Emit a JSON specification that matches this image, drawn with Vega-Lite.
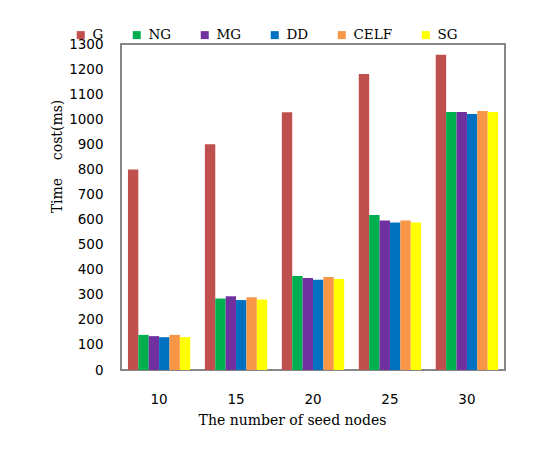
{
  "$schema": "https://vega.github.io/schema/vega-lite/v6.json",
  "width": 384,
  "height": 326,
  "autosize": "none",
  "padding": {"left": 121, "top": 44, "right": 45, "bottom": 79},
  "background": "white",
  "data": {
    "values": [
      {"n": "10", "alg": "G", "t": 800}, {"n": "10", "alg": "NG", "t": 140}, {"n": "10", "alg": "MG", "t": 135}, {"n": "10", "alg": "DD", "t": 131}, {"n": "10", "alg": "CELF", "t": 140}, {"n": "10", "alg": "SG", "t": 131},
      {"n": "15", "alg": "G", "t": 900}, {"n": "15", "alg": "NG", "t": 285}, {"n": "15", "alg": "MG", "t": 294}, {"n": "15", "alg": "DD", "t": 279}, {"n": "15", "alg": "CELF", "t": 290}, {"n": "15", "alg": "SG", "t": 281},
      {"n": "20", "alg": "G", "t": 1028}, {"n": "20", "alg": "NG", "t": 375}, {"n": "20", "alg": "MG", "t": 367}, {"n": "20", "alg": "DD", "t": 360}, {"n": "20", "alg": "CELF", "t": 371}, {"n": "20", "alg": "SG", "t": 363},
      {"n": "25", "alg": "G", "t": 1180}, {"n": "25", "alg": "NG", "t": 618}, {"n": "25", "alg": "MG", "t": 596}, {"n": "25", "alg": "DD", "t": 588}, {"n": "25", "alg": "CELF", "t": 596}, {"n": "25", "alg": "SG", "t": 588},
      {"n": "30", "alg": "G", "t": 1257}, {"n": "30", "alg": "NG", "t": 1029}, {"n": "30", "alg": "MG", "t": 1029}, {"n": "30", "alg": "DD", "t": 1021}, {"n": "30", "alg": "CELF", "t": 1033}, {"n": "30", "alg": "SG", "t": 1029}
    ]
  },
  "mark": {"type": "bar"},
  "encoding": {
    "x": {
      "field": "n", "type": "nominal", "sort": ["10", "15", "20", "25", "30"],
      "scale": {"paddingInner": 0.19, "paddingOuter": 0.09},
      "axis": {
        "title": "The number of seed nodes", "labelAngle": 0, "domain": false, "ticks": false, "tickSize": 0,
        "labelPadding": 22, "labelFont": "DejaVu Sans", "labelFontSize": 13.5, "labelColor": "#000",
        "titleFont": "DejaVu Serif", "titleFontSize": 14, "titleFontWeight": "normal", "titleColor": "#000",
        "titlePadding": 8, "titleX": 171
      }
    },
    "xOffset": {"field": "alg", "type": "nominal", "sort": ["G", "NG", "MG", "DD", "CELF", "SG"], "scale": {"paddingInner": 0, "paddingOuter": 0}},
    "y": {
      "field": "t", "type": "quantitative",
      "scale": {"domain": [0, 1300], "nice": false},
      "axis": {
        "title": "Time\u00a0\u00a0\u00a0\u00a0cost(ms)", "values": [0,100,200,300,400,500,600,700,800,900,1000,1100,1200,1300],
        "format": "d",
        "grid": false, "domain": false, "ticks": false, "tickSize": 0, "labelPadding": 18,
        "labelFont": "DejaVu Sans", "labelFontSize": 13.5, "labelColor": "#000",
        "titleFont": "DejaVu Serif", "titleFontSize": 14, "titleFontWeight": "normal", "titleColor": "#000",
        "titlePadding": 4, "titleY": 112
      }
    },
    "color": {
      "field": "alg", "type": "nominal",
      "scale": {"domain": ["G", "NG", "MG", "DD", "CELF", "SG"], "range": ["#C0504D", "#00B050", "#7030A0", "#0070C0", "#F79646", "#FFFF00"]},
      "legend": {
        "title": null, "orient": "none", "direction": "horizontal", "legendX": -47, "legendY": -16,
        "symbolType": "square", "symbolSize": 64, "symbolStrokeWidth": 0, "labelOffset": 5, "columnPadding": 26,
        "labelFont": "DejaVu Serif", "labelFontSize": 13.5, "labelColor": "#000"
      }
    }
  },
  "config": {"view": {"stroke": "#878787", "strokeWidth": 2}}
}
